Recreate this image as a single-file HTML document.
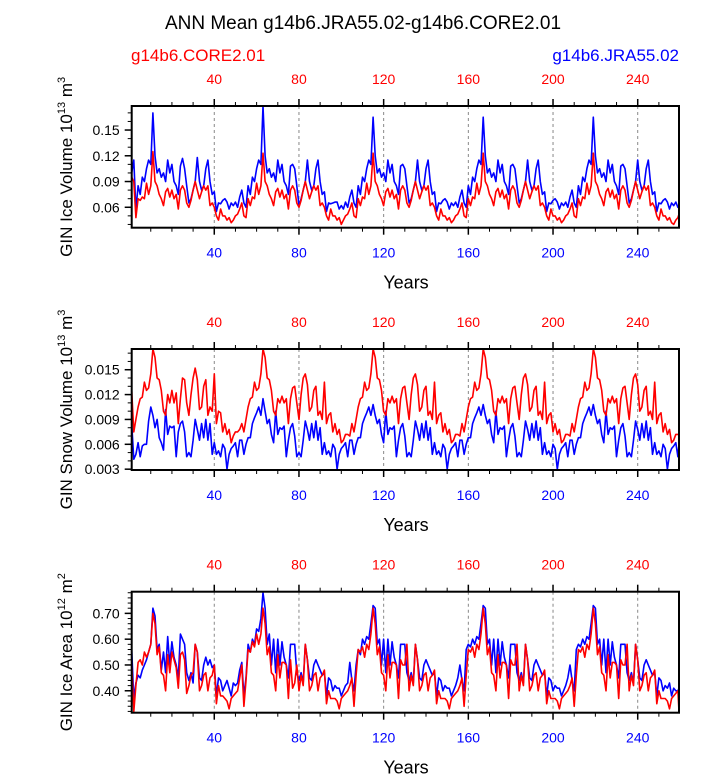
<!DOCTYPE html>
<html><head><meta charset="utf-8"><style>
html,body{margin:0;padding:0;background:#fff;}
svg text{font-family:"Liberation Sans",Helvetica,Arial,sans-serif;}
</style></head><body>
<svg id="chart" width="723" height="775" viewBox="0 0 723 775" xmlns="http://www.w3.org/2000/svg">
<text x="363" y="29" font-size="19" text-anchor="middle" fill="#000">ANN Mean g14b6.JRA55.02-g14b6.CORE2.01</text>
<text x="131" y="61" font-size="17" fill="#ff0000">g14b6.CORE2.01</text>
<text x="679" y="61" font-size="17" fill="#0000ff" text-anchor="end">g14b6.JRA55.02</text>
</svg>
<script>
const xTicks=[40,80,120,160,200,240];
const xMinorTicks=[10,20,30,50,60,70,90,100,110,130,140,150,170,180,190,210,220,230,250];
const iceVolTicks=[0.06,0.09,0.12,0.15];
const iceVolTickLabels=["0.06","0.09","0.12","0.15"];
const snowTicks=[0.003,0.006,0.009,0.012,0.015];
const snowTickLabels=["0.003","0.006","0.009","0.012","0.015"];
const areaTicks=[0.40,0.50,0.60,0.70];
const areaTickLabels=["0.40","0.50","0.60","0.70"];

const iceVolJRA=[
0.100,0.115,0.057,0.085,0.075,0.095,0.090,0.105,0.115,0.110,0.170,0.120,0.100,0.105,0.095,0.100,0.090,0.115,0.100,0.110,0.090,0.085,0.075,0.108,0.117,0.105,0.085,0.065,0.070,0.080,0.090,0.118,0.090,0.080,0.085,0.105,0.115,0.090,0.075,0.078,0.055,0.065,0.064,0.068,0.070,0.066,0.058,0.065,0.062,0.066,0.060,0.072,
0.080,0.065,0.060,0.085,0.075,0.095,0.090,0.105,0.115,0.110,0.178,0.120,0.100,0.105,0.095,0.100,0.090,0.115,0.100,0.110,0.090,0.085,0.075,0.108,0.110,0.105,0.085,0.062,0.070,0.080,0.090,0.115,0.090,0.080,0.085,0.105,0.115,0.090,0.075,0.078,0.055,0.065,0.064,0.065,0.066,0.066,0.058,0.062,0.058,0.066,0.060,0.072,
0.080,0.065,0.060,0.085,0.075,0.095,0.090,0.105,0.115,0.110,0.165,0.120,0.100,0.105,0.095,0.100,0.090,0.115,0.100,0.110,0.090,0.085,0.075,0.108,0.110,0.105,0.085,0.065,0.070,0.080,0.090,0.115,0.090,0.080,0.085,0.105,0.115,0.090,0.075,0.078,0.055,0.065,0.064,0.068,0.070,0.066,0.058,0.065,0.062,0.066,0.060,0.072,
0.080,0.065,0.060,0.085,0.075,0.095,0.090,0.105,0.115,0.110,0.165,0.120,0.100,0.105,0.095,0.100,0.090,0.115,0.100,0.110,0.090,0.085,0.075,0.108,0.110,0.105,0.085,0.065,0.070,0.080,0.090,0.115,0.090,0.080,0.085,0.105,0.115,0.090,0.075,0.078,0.055,0.065,0.064,0.068,0.070,0.066,0.058,0.065,0.062,0.066,0.060,0.072,
0.080,0.065,0.060,0.085,0.075,0.095,0.090,0.105,0.115,0.110,0.165,0.120,0.100,0.105,0.095,0.100,0.090,0.115,0.100,0.110,0.090,0.085,0.075,0.108,0.110,0.105,0.085,0.065,0.070,0.080,0.090,0.115,0.090,0.080,0.085,0.105,0.115,0.090,0.075,0.078,0.055,0.065,0.064,0.068,0.070,0.066,0.058,0.065,0.062,0.066,0.060,0.062];
const iceVolCORE=[
0.095,0.090,0.048,0.070,0.068,0.072,0.070,0.088,0.075,0.085,0.125,0.090,0.085,0.075,0.070,0.062,0.078,0.082,0.072,0.080,0.070,0.075,0.058,0.080,0.085,0.080,0.065,0.060,0.068,0.080,0.090,0.080,0.070,0.078,0.085,0.080,0.085,0.062,0.065,0.060,0.050,0.045,0.058,0.050,0.050,0.045,0.048,0.042,0.045,0.050,0.052,0.058,
0.065,0.050,0.048,0.070,0.062,0.072,0.070,0.088,0.075,0.085,0.123,0.090,0.085,0.075,0.070,0.062,0.078,0.082,0.072,0.080,0.070,0.075,0.058,0.080,0.085,0.080,0.065,0.060,0.068,0.080,0.090,0.080,0.070,0.078,0.085,0.080,0.085,0.062,0.065,0.060,0.050,0.045,0.058,0.050,0.050,0.045,0.048,0.040,0.045,0.050,0.052,0.058,
0.065,0.050,0.048,0.070,0.062,0.072,0.070,0.088,0.075,0.085,0.123,0.090,0.085,0.075,0.070,0.062,0.078,0.082,0.072,0.080,0.070,0.075,0.058,0.080,0.085,0.080,0.065,0.060,0.068,0.080,0.090,0.080,0.070,0.078,0.085,0.080,0.085,0.062,0.065,0.060,0.050,0.045,0.058,0.050,0.050,0.045,0.048,0.042,0.045,0.050,0.052,0.058,
0.065,0.050,0.048,0.070,0.062,0.072,0.070,0.088,0.075,0.085,0.123,0.090,0.085,0.075,0.070,0.062,0.078,0.082,0.072,0.080,0.070,0.075,0.058,0.080,0.085,0.080,0.065,0.060,0.068,0.080,0.090,0.080,0.070,0.078,0.085,0.080,0.085,0.062,0.065,0.060,0.050,0.045,0.058,0.050,0.050,0.045,0.048,0.042,0.045,0.050,0.052,0.058,
0.065,0.050,0.048,0.070,0.062,0.072,0.070,0.088,0.075,0.085,0.123,0.090,0.085,0.075,0.070,0.062,0.078,0.082,0.072,0.080,0.070,0.075,0.058,0.080,0.085,0.080,0.065,0.060,0.068,0.080,0.090,0.080,0.070,0.078,0.085,0.080,0.085,0.062,0.065,0.060,0.050,0.045,0.058,0.050,0.050,0.045,0.048,0.042,0.040,0.045,0.048,0.052];
const snowCORE=[
0.0125,0.0075,0.0090,0.0105,0.0115,0.0117,0.0135,0.0125,0.0128,0.0145,0.0175,0.0165,0.0140,0.0138,0.0125,0.0100,0.0095,0.0120,0.0110,0.0125,0.0110,0.0122,0.0085,0.0115,0.0140,0.0138,0.0110,0.0095,0.0120,0.0140,0.0152,0.0138,0.0102,0.0105,0.0130,0.0138,0.0095,0.0105,0.0100,0.0145,0.0085,0.0100,0.0098,0.0075,0.0085,0.0072,0.0078,0.0062,0.0070,0.0075,0.0075,0.0078,
0.0085,0.0075,0.0090,0.0105,0.0115,0.0117,0.0135,0.0125,0.0128,0.0145,0.0175,0.0165,0.0140,0.0138,0.0125,0.0100,0.0095,0.0115,0.0110,0.0118,0.0110,0.0115,0.0085,0.0115,0.0128,0.0130,0.0110,0.0090,0.0120,0.0140,0.0145,0.0132,0.0100,0.0105,0.0125,0.0130,0.0095,0.0100,0.0090,0.0135,0.0085,0.0095,0.0098,0.0075,0.0085,0.0072,0.0078,0.0062,0.0065,0.0072,0.0072,0.0070,
0.0085,0.0075,0.0090,0.0105,0.0115,0.0117,0.0135,0.0125,0.0128,0.0145,0.0175,0.0165,0.0140,0.0138,0.0125,0.0100,0.0095,0.0115,0.0110,0.0118,0.0110,0.0115,0.0085,0.0115,0.0128,0.0130,0.0110,0.0090,0.0120,0.0140,0.0145,0.0132,0.0100,0.0105,0.0125,0.0130,0.0095,0.0100,0.0090,0.0135,0.0085,0.0095,0.0098,0.0075,0.0085,0.0072,0.0078,0.0062,0.0065,0.0072,0.0072,0.0070,
0.0085,0.0075,0.0090,0.0105,0.0115,0.0117,0.0135,0.0125,0.0128,0.0145,0.0175,0.0165,0.0140,0.0138,0.0125,0.0100,0.0095,0.0115,0.0110,0.0118,0.0110,0.0115,0.0085,0.0115,0.0128,0.0130,0.0110,0.0090,0.0120,0.0140,0.0145,0.0132,0.0100,0.0105,0.0125,0.0130,0.0095,0.0100,0.0090,0.0135,0.0085,0.0095,0.0098,0.0075,0.0085,0.0072,0.0078,0.0062,0.0065,0.0072,0.0072,0.0070,
0.0085,0.0075,0.0090,0.0105,0.0115,0.0117,0.0135,0.0125,0.0128,0.0145,0.0175,0.0165,0.0140,0.0138,0.0125,0.0100,0.0095,0.0115,0.0110,0.0118,0.0110,0.0115,0.0085,0.0115,0.0128,0.0130,0.0110,0.0090,0.0120,0.0140,0.0145,0.0132,0.0100,0.0105,0.0125,0.0130,0.0095,0.0100,0.0090,0.0135,0.0085,0.0095,0.0098,0.0075,0.0085,0.0072,0.0078,0.0062,0.0065,0.0072,0.0072,0.0072];
const snowJRA=[
0.0085,0.0042,0.0048,0.0062,0.0045,0.0058,0.0060,0.0060,0.0088,0.0105,0.0095,0.0080,0.0090,0.0068,0.0062,0.0053,0.0102,0.0072,0.0082,0.0080,0.0082,0.0045,0.0075,0.0085,0.0088,0.0075,0.0045,0.0050,0.0045,0.0065,0.0090,0.0078,0.0065,0.0085,0.0068,0.0090,0.0065,0.0085,0.0048,0.0062,0.0048,0.0052,0.0045,0.0060,0.0055,0.0030,0.0048,0.0055,0.0058,0.0062,0.0045,0.0065,
0.0065,0.0048,0.0060,0.0068,0.0068,0.0085,0.0092,0.0098,0.0105,0.0095,0.0115,0.0100,0.0085,0.0090,0.0072,0.0062,0.0100,0.0072,0.0080,0.0078,0.0082,0.0045,0.0065,0.0080,0.0085,0.0070,0.0045,0.0050,0.0045,0.0065,0.0088,0.0078,0.0065,0.0085,0.0068,0.0088,0.0065,0.0080,0.0048,0.0062,0.0048,0.0052,0.0045,0.0060,0.0055,0.0030,0.0048,0.0055,0.0058,0.0062,0.0045,0.0065,
0.0065,0.0048,0.0060,0.0068,0.0068,0.0085,0.0092,0.0098,0.0105,0.0095,0.0108,0.0095,0.0085,0.0090,0.0072,0.0062,0.0100,0.0072,0.0080,0.0078,0.0082,0.0045,0.0065,0.0080,0.0085,0.0070,0.0045,0.0050,0.0045,0.0065,0.0088,0.0078,0.0065,0.0085,0.0068,0.0088,0.0065,0.0080,0.0048,0.0062,0.0048,0.0052,0.0045,0.0060,0.0055,0.0030,0.0048,0.0055,0.0058,0.0062,0.0045,0.0065,
0.0065,0.0048,0.0060,0.0068,0.0068,0.0085,0.0092,0.0098,0.0105,0.0095,0.0108,0.0095,0.0085,0.0090,0.0072,0.0062,0.0100,0.0072,0.0080,0.0078,0.0082,0.0045,0.0065,0.0080,0.0085,0.0070,0.0045,0.0050,0.0045,0.0065,0.0088,0.0078,0.0065,0.0085,0.0068,0.0088,0.0065,0.0080,0.0048,0.0062,0.0048,0.0052,0.0045,0.0060,0.0055,0.0030,0.0048,0.0055,0.0058,0.0062,0.0045,0.0065,
0.0065,0.0048,0.0060,0.0068,0.0068,0.0085,0.0092,0.0098,0.0105,0.0095,0.0108,0.0095,0.0085,0.0090,0.0072,0.0062,0.0100,0.0072,0.0080,0.0078,0.0082,0.0045,0.0065,0.0080,0.0085,0.0070,0.0045,0.0050,0.0045,0.0065,0.0088,0.0078,0.0065,0.0085,0.0068,0.0088,0.0065,0.0080,0.0048,0.0062,0.0048,0.0052,0.0045,0.0060,0.0055,0.0030,0.0048,0.0055,0.0058,0.0062,0.0045,0.0060];
const areaJRA=[
0.56,0.37,0.43,0.46,0.45,0.48,0.50,0.52,0.55,0.58,0.72,0.69,0.56,0.58,0.48,0.55,0.47,0.61,0.50,0.59,0.53,0.50,0.45,0.62,0.60,0.58,0.47,0.44,0.47,0.43,0.58,0.55,0.45,0.44,0.50,0.53,0.50,0.52,0.49,0.50,0.38,0.45,0.44,0.40,0.42,0.44,0.41,0.38,0.43,0.42,0.43,0.48,
0.51,0.38,0.45,0.58,0.55,0.60,0.58,0.64,0.63,0.68,0.78,0.72,0.58,0.62,0.50,0.60,0.47,0.60,0.50,0.59,0.53,0.50,0.45,0.58,0.58,0.58,0.47,0.44,0.47,0.43,0.58,0.52,0.45,0.44,0.50,0.52,0.50,0.48,0.46,0.47,0.38,0.45,0.44,0.40,0.42,0.41,0.41,0.38,0.40,0.42,0.43,0.51,
0.44,0.40,0.50,0.56,0.54,0.60,0.58,0.61,0.60,0.66,0.73,0.72,0.58,0.60,0.50,0.60,0.47,0.60,0.50,0.59,0.53,0.50,0.45,0.58,0.58,0.58,0.47,0.44,0.47,0.43,0.58,0.52,0.45,0.44,0.50,0.52,0.50,0.48,0.46,0.47,0.38,0.45,0.44,0.40,0.42,0.41,0.41,0.38,0.40,0.42,0.45,0.50,
0.44,0.40,0.56,0.58,0.57,0.60,0.58,0.61,0.60,0.66,0.73,0.72,0.58,0.60,0.50,0.60,0.47,0.60,0.50,0.59,0.53,0.50,0.45,0.58,0.58,0.58,0.47,0.44,0.47,0.43,0.58,0.52,0.45,0.44,0.50,0.52,0.50,0.48,0.46,0.47,0.38,0.45,0.44,0.40,0.42,0.41,0.41,0.38,0.40,0.42,0.45,0.50,
0.44,0.40,0.56,0.58,0.57,0.60,0.58,0.61,0.60,0.66,0.73,0.72,0.58,0.60,0.50,0.60,0.47,0.60,0.50,0.59,0.53,0.50,0.45,0.58,0.58,0.58,0.47,0.44,0.47,0.43,0.58,0.52,0.45,0.44,0.50,0.52,0.50,0.48,0.46,0.47,0.38,0.45,0.44,0.40,0.42,0.41,0.43,0.38,0.41,0.40,0.40,0.41];
const areaCORE=[
0.50,0.32,0.42,0.51,0.52,0.50,0.55,0.53,0.55,0.58,0.70,0.66,0.54,0.57,0.47,0.46,0.40,0.54,0.47,0.55,0.52,0.49,0.41,0.54,0.55,0.52,0.39,0.42,0.46,0.47,0.58,0.55,0.40,0.42,0.46,0.47,0.40,0.45,0.46,0.50,0.35,0.42,0.38,0.38,0.37,0.36,0.33,0.37,0.38,0.39,0.40,0.45,
0.50,0.34,0.44,0.56,0.55,0.59,0.57,0.62,0.58,0.62,0.72,0.66,0.54,0.57,0.47,0.46,0.40,0.54,0.45,0.51,0.51,0.50,0.37,0.52,0.41,0.43,0.50,0.40,0.46,0.42,0.58,0.52,0.40,0.42,0.46,0.47,0.40,0.45,0.46,0.48,0.35,0.40,0.37,0.37,0.37,0.36,0.33,0.37,0.38,0.39,0.40,0.42,
0.45,0.34,0.46,0.56,0.55,0.57,0.53,0.58,0.56,0.62,0.72,0.66,0.54,0.57,0.47,0.46,0.40,0.54,0.45,0.51,0.51,0.50,0.37,0.52,0.50,0.50,0.58,0.40,0.46,0.42,0.58,0.52,0.40,0.42,0.46,0.47,0.40,0.45,0.46,0.48,0.35,0.40,0.37,0.37,0.37,0.36,0.33,0.37,0.38,0.39,0.40,0.42,
0.45,0.34,0.46,0.56,0.55,0.57,0.53,0.58,0.56,0.62,0.72,0.66,0.54,0.57,0.47,0.46,0.40,0.54,0.45,0.51,0.51,0.50,0.37,0.52,0.50,0.50,0.58,0.40,0.46,0.42,0.58,0.52,0.40,0.42,0.46,0.47,0.40,0.45,0.46,0.48,0.35,0.40,0.37,0.37,0.37,0.36,0.33,0.37,0.38,0.39,0.40,0.42,
0.45,0.34,0.46,0.56,0.55,0.57,0.53,0.58,0.56,0.62,0.72,0.66,0.54,0.57,0.47,0.46,0.40,0.54,0.45,0.51,0.51,0.50,0.37,0.52,0.50,0.50,0.58,0.40,0.46,0.42,0.58,0.52,0.40,0.42,0.46,0.47,0.40,0.45,0.46,0.48,0.35,0.40,0.37,0.37,0.37,0.36,0.33,0.37,0.38,0.39,0.40,0.32,0.37,0.38];

const NS='http://www.w3.org/2000/svg';
const svg=document.getElementById('chart');
function mk(tag,attrs,parent){const e=document.createElementNS(NS,tag);for(const k in attrs)e.setAttribute(k,attrs[k]);(parent||svg).appendChild(e);return e;}

const X0=131.7,X1=679,XMIN=1,XMAX=259.5;
function xs(v){return X0+(v-XMIN)/(XMAX-XMIN)*(X1-X0);}

function panel(cfg){
  const g=mk('g',{});
  
  
  const T=cfg.top,B=cfg.bottom;
  const ys=v=>B-(v-cfg.ymin)/(cfg.ymax-cfg.ymin)*(B-T);
  // grid
  xTicks.forEach(t=>{const l=mk('line',{x1:xs(t),x2:xs(t),y1:T,y2:B,stroke:'#888','stroke-width':1,'stroke-dasharray':'3,3'},g);
    
    });
  // series
  const drawLine=(arr,color,nm)=>{let d='';arr.forEach((v,i)=>{const yr=i+1;if(yr>XMAX+0.5)return;d+=(d?'L':'M')+xs(Math.min(yr,XMAX)).toFixed(1)+','+ys(v).toFixed(1);});
    const p=mk('path',{d:d,fill:'none',stroke:color,'stroke-width':1.6,'stroke-linejoin':'round'},g);
    
    };
  if(cfg.redFirst){drawLine(cfg.core,'#ff0000','core-line');drawLine(cfg.jra,'#0000ff','jra-line');}
  else{drawLine(cfg.jra,'#0000ff','jra-line');drawLine(cfg.core,'#ff0000','core-line');}
  // frame
  const f=mk('rect',{x:X0,y:T,width:X1-X0,height:B-T,fill:'none',stroke:'#000','stroke-width':2},g);
  
  
  // x ticks
  xTicks.forEach(t=>{mk('line',{x1:xs(t),x2:xs(t),y1:T,y2:T-7,stroke:'#000','stroke-width':1.5},g);mk('line',{x1:xs(t),x2:xs(t),y1:B,y2:B+7,stroke:'#000','stroke-width':1.5},g);
    const a=mk('text',{x:xs(t),y:T-22,'font-size':14,fill:'#ff0000','text-anchor':'middle'},g);a.textContent=t;
    
    
    const b=mk('text',{x:xs(t),y:B+30,'font-size':14,fill:'#0000ff','text-anchor':'middle'},g);b.textContent=t;
    
    });
  xMinorTicks.forEach(t=>{mk('line',{x1:xs(t),x2:xs(t),y1:T,y2:T-4,stroke:'#000','stroke-width':1},g);mk('line',{x1:xs(t),x2:xs(t),y1:B,y2:B+4,stroke:'#000','stroke-width':1},g);});
  // y ticks
  cfg.ticks.forEach((t,i)=>{const y=ys(t);mk('line',{x1:X0,x2:X0-7,y1:y,y2:y,stroke:'#000','stroke-width':1.5},g);
    const l=mk('text',{x:X0-12,y:y+5,'font-size':14,fill:'#000','text-anchor':'end'},g);l.textContent=cfg.labels[i];
    
    });
  const step=(cfg.ticks[1]-cfg.ticks[0])/cfg.minorN;
  for(let v=cfg.ticks[0]-step*20;v<=cfg.ymax+1e-9;v+=step){if(v<cfg.ymin-1e-9)continue;const y=ys(v);mk('line',{x1:X0,x2:X0-4,y1:y,y2:y,stroke:'#000','stroke-width':1},g);}
  // axis titles
  const yt=mk('text',{x:0,y:0,'font-size':17,fill:'#000','text-anchor':'middle',transform:`translate(72,${(T+B)/2}) rotate(-90)`},g);
  yt.innerHTML=cfg.ytitle;
  
  
  const xt=mk('text',{x:406,y:B+61,'font-size':18,fill:'#000','text-anchor':'middle'},g);xt.textContent='Years';
  
  
}
panel({name:'ice-volume-panel',top:106,bottom:227.7,ymin:0.0362,ymax:0.178,ticks:iceVolTicks,labels:iceVolTickLabels,minorN:3,jra:iceVolJRA,core:iceVolCORE,redFirst:false,
  ytitle:'GIN Ice Volume 10<tspan dy="-7" font-size="11">13</tspan><tspan dy="7"> m</tspan><tspan dy="-7" font-size="11">3</tspan>'});
panel({name:'snow-volume-panel',top:349,bottom:470,ymin:0.0029,ymax:0.0175,ticks:snowTicks,labels:snowTickLabels,minorN:3,jra:snowJRA,core:snowCORE,redFirst:false,
  ytitle:'GIN Snow Volume 10<tspan dy="-7" font-size="11">13</tspan><tspan dy="7"> m</tspan><tspan dy="-7" font-size="11">3</tspan>'});
panel({name:'ice-area-panel',top:591.7,bottom:712.7,ymin:0.315,ymax:0.784,ticks:areaTicks,labels:areaTickLabels,minorN:5,jra:areaJRA,core:areaCORE,redFirst:false,
  ytitle:'GIN Ice Area 10<tspan dy="-7" font-size="11">12</tspan><tspan dy="7"> m</tspan><tspan dy="-7" font-size="11">2</tspan>'});
</script>
</body></html>
